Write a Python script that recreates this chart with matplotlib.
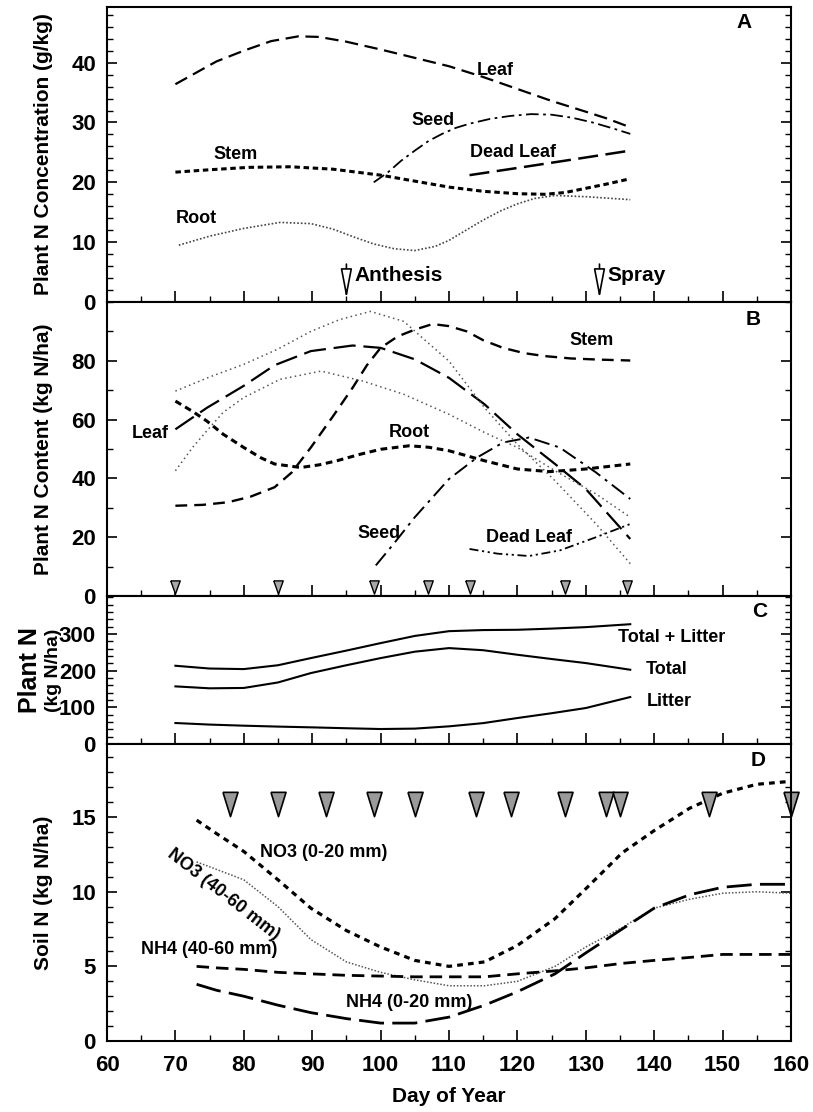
import numpy as np
import matplotlib
matplotlib.use('Agg')
import matplotlib.pyplot as plt
from matplotlib.path import Path
from matplotlib.ticker import MultipleLocator
from matplotlib.patches import FancyArrowPatch

plt.rcParams['font.family'] = ['Liberation Sans Narrow', 'Liberation Sans', 'DejaVu Sans']
plt.rcParams['font.weight'] = 'bold'
plt.rcParams['axes.labelweight'] = 'bold'

# ---- Panel A: plant N concentration (g/kg)
a_leaf_x = [70, 73, 76, 80, 84, 88, 91, 95, 100, 105, 110, 115, 120, 125, 130, 133, 136.5]
a_leaf_y = [36.4, 38.3, 40.2, 42.0, 43.6, 44.4, 44.3, 43.5, 42.2, 40.8, 39.4, 37.6, 35.6, 33.6, 31.8, 30.7, 29.2]
a_seed_x = [99, 101, 103, 105, 107, 109, 111, 113, 116, 119, 122, 125, 128, 131, 134, 136.5]
a_seed_y = [20.0, 21.6, 23.6, 25.3, 26.9, 28.1, 29.1, 29.8, 30.6, 31.1, 31.4, 31.3, 30.8, 30.0, 29.0, 28.1]
a_stem_x = [70, 75, 80.7, 86.8, 93, 100, 105, 110, 115, 120, 124, 127, 130, 133, 136.5]
a_stem_y = [21.7, 22.1, 22.5, 22.6, 22.2, 21.2, 20.2, 19.2, 18.5, 18.1, 18.0, 18.3, 19.0, 19.7, 20.6]
a_dead_x = [113, 120, 128, 136.5]
a_dead_y = [21.2, 22.4, 23.8, 25.3]
a_root_x = [70.5, 75, 80, 85.3, 89.8, 93, 96, 99, 102, 105, 108, 110, 112.5, 115, 117.5, 120, 122.5, 125.5, 130, 136.5]
a_root_y = [9.5, 11.0, 12.3, 13.3, 13.1, 12.2, 10.9, 9.7, 8.9, 8.6, 9.3, 10.3, 12.0, 13.7, 15.2, 16.4, 17.3, 17.8, 17.6, 17.1]
a_events = [95, 132]
a_event_names = ['Anthesis', 'Spray']

# ---- Panel B: plant N content (kg N/ha)
b_leaf_x = [70, 74.6, 80, 84.5, 89.8, 95.9, 100, 105, 110, 115.2, 120, 125.5, 130, 136.5]
b_leaf_y = [56.7, 64.0, 71.5, 78.5, 83.3, 85.2, 84.4, 80.5, 74.2, 65.2, 55.0, 44.9, 36.4, 19.4]
b_stem_x = [70, 74, 77.7, 81, 84.5, 87, 89.8, 93, 95.9, 98, 100, 102.5, 105, 107.6, 110, 112.6, 115, 117.9, 121, 124, 127.8, 132, 136.5]
b_stem_y = [30.7, 31.0, 31.9, 33.8, 37.0, 42.0, 50.5, 61.0, 70.8, 78.5, 84.4, 88.3, 90.6, 92.5, 91.8, 90.0, 87.0, 84.4, 82.6, 81.6, 80.8, 80.4, 80.1]
b_root_x = [70, 72.5, 74.6, 77, 80, 82.5, 84.5, 88.3, 91, 93.6, 97, 100, 104.2, 107, 110, 115.2, 120, 124.7, 130, 136.5]
b_root_y = [66.3, 62.8, 59.5, 55.0, 50.5, 47.0, 44.9, 43.7, 44.6, 46.0, 48.2, 49.9, 51.1, 50.6, 49.4, 46.0, 43.2, 42.3, 43.2, 44.9]
b_seed_x = [99.3, 102, 105, 110, 114.1, 117.9, 121.7, 126.2, 131.5, 136.5]
b_seed_y = [10.4, 18.0, 26.8, 39.8, 47.1, 52.2, 53.9, 50.5, 42.0, 33.0]
b_dead_x = [113, 117.1, 121.7, 126.2, 131.5, 136.5]
b_dead_y = [16.0, 14.4, 13.6, 15.5, 20.0, 24.5]
b_dot1_x = [70, 75, 80, 85, 89.8, 94, 98.5, 103.4, 106.5, 110, 115.2, 120, 125.5, 131.5, 136.5]
b_dot1_y = [69.7, 74.5, 78.8, 84.0, 90.0, 94.0, 96.8, 93.4, 87.0, 79.9, 64.0, 51.6, 39.2, 24.5, 11.0]
b_dot2_x = [70, 72.5, 74.6, 77, 80, 85.3, 91.3, 97.4, 103.4, 110, 115.2, 120, 125.5, 131.5, 136.5]
b_dot2_y = [42.6, 50.5, 56.2, 62.5, 67.5, 73.7, 76.5, 73.1, 68.6, 61.8, 55.6, 50.5, 42.6, 34.7, 26.8]
b_sample_days = [70, 85, 99, 107, 113, 127, 136]

# ---- Panel C: plant N (kg N/ha)
c_x = [70, 75, 80, 85, 89.8, 95, 100, 105, 110, 115, 120, 125, 130, 136.5]
c_total_litter = [213.6, 206, 204.5, 215, 234.5, 255, 275.4, 295, 308, 311, 311.8, 315, 319, 327]
c_total = [157.3, 152, 153, 168, 193.6, 215, 234.5, 252, 261.8, 256, 243.6, 232, 220.9, 202.7]
c_litter = [57.3, 53, 50, 47.5, 45.5, 43, 40.9, 42, 48.2, 57, 70.9, 84, 98.2, 128.2]

# ---- Panel D: soil N (kg N/ha)
d_x = [73.1, 76, 80, 85, 89.8, 95, 100, 105, 110, 115.2, 120, 125.5, 130, 135.3, 140, 145.2, 150, 155, 160]
d_no3_top = [14.8, 13.9, 12.7, 10.8, 8.9, 7.4, 6.3, 5.4, 5.0, 5.3, 6.4, 8.2, 10.2, 12.6, 14.1, 15.6, 16.6, 17.2, 17.4]
d_no3_deep = [12.0, 11.5, 10.8, 9.0, 6.8, 5.3, 4.6, 4.1, 3.7, 3.7, 4.0, 5.0, 6.3, 7.6, 8.9, 9.5, 9.9, 10.0, 9.9]
d_nh4_deep = [5.0, 4.9, 4.8, 4.6, 4.5, 4.4, 4.35, 4.3, 4.3, 4.3, 4.5, 4.7, 4.9, 5.2, 5.4, 5.6, 5.8, 5.8, 5.8]
d_nh4_top = [3.8, 3.4, 3.0, 2.4, 1.9, 1.5, 1.2, 1.2, 1.6, 2.4, 3.3, 4.5, 5.9, 7.5, 8.9, 9.8, 10.3, 10.5, 10.5]
d_sample_days = [78, 85, 92, 99, 105, 114, 119, 127, 133, 135, 148, 160]

fig = plt.figure(figsize=(8.13, 11.12), dpi=100)
gs = fig.add_gridspec(4, 1, height_ratios=[295, 294, 148, 297], hspace=0,
                      left=107/813, right=791/813, top=1-7/1112, bottom=1-1041/1112)
axA = fig.add_subplot(gs[0])
axB = fig.add_subplot(gs[1], sharex=axA)
axC = fig.add_subplot(gs[2], sharex=axA)
axD = fig.add_subplot(gs[3], sharex=axA)

k = 'black'
# Panel A
axA.plot(a_leaf_x, a_leaf_y, color=k, lw=1.6, ls=(0, (6, 3)))
axA.plot(a_seed_x, a_seed_y, color=k, lw=1.3, ls=(0, (7, 2.5, 1.5, 2.5)))
axA.plot(a_stem_x, a_stem_y, color=k, lw=2.2, ls=(0, (1.8, 1.2)))
axA.plot(a_dead_x, a_dead_y, color=k, lw=1.8, ls=(0, (8, 3)))
axA.plot(a_root_x, a_root_y, color='#444444', lw=1.2, ls=(0, (1, 1.2)))
for d, name in zip(a_events, a_event_names):
    axA.add_patch(FancyArrowPatch((d, 6.8), (d, 0.1), arrowstyle='-|>,head_width=0.25,head_length=1.3',
                                  mutation_scale=14, fc='white', ec=k, lw=1.2))
    axA.text(d + 1.2, 4.4, name, fontsize=15, va='center', ha='left')
axA.text(116.8, 38.7, 'Leaf', fontsize=13, ha='center', va='center')
axA.text(107.6, 30.3, 'Seed', fontsize=13, ha='center', va='center')
axA.text(78.8, 24.7, 'Stem', fontsize=13, ha='center', va='center')
axA.text(119.4, 25.0, 'Dead Leaf', fontsize=13, ha='center', va='center')
axA.text(73.0, 14.0, 'Root', fontsize=13, ha='center', va='center')
axA.text(153.2, 46.7, 'A', fontsize=15, ha='center', va='center')
axA.set_ylim(0, 49.3)
axA.set_yticks([0, 10, 20, 30, 40])
axA.yaxis.set_minor_locator(MultipleLocator(2))
axA.set_ylabel('Plant N Concentration (g/kg)', fontsize=15)

# Panel B
axB.plot(b_leaf_x, b_leaf_y, color=k, lw=1.6, ls=(0, (10, 3.5)))
axB.plot(b_stem_x, b_stem_y, color=k, lw=1.7, ls=(0, (5, 3)))
axB.plot(b_root_x, b_root_y, color=k, lw=2.2, ls=(0, (2.2, 1.5)))
axB.plot(b_seed_x, b_seed_y, color=k, lw=1.4, ls=(0, (8, 3, 1.5, 3)))
axB.plot(b_dead_x, b_dead_y, color=k, lw=1.3, ls=(0, (5, 2, 1.2, 2, 1.2, 2)))
axB.plot(b_dot1_x, b_dot1_y, color='#555555', lw=1.1, ls=(0, (1, 2.2)))
axB.plot(b_dot2_x, b_dot2_y, color='#555555', lw=1.1, ls=(0, (1, 2.2)))
tri_small = Path([(-0.36, 0.5), (0.36, 0.5), (0, -0.5), (-0.36, 0.5)])
axB.plot(b_sample_days, [2.9] * len(b_sample_days), ls='none', marker=tri_small,
         ms=9.5, mfc='#a8a8a8', mec=k, mew=1.0)
axB.text(130.8, 86.9, 'Stem', fontsize=13, ha='center', va='center')
axB.text(66.3, 55.3, 'Leaf', fontsize=13, ha='center', va='center')
axB.text(104.2, 55.6, 'Root', fontsize=13, ha='center', va='center')
axB.text(99.7, 21.4, 'Seed', fontsize=13, ha='center', va='center')
axB.text(121.7, 20.0, 'Dead Leaf', fontsize=13, ha='center', va='center')
axB.text(154.5, 94.0, 'B', fontsize=15, ha='center', va='center')
axB.set_ylim(0, 100)
axB.set_yticks([0, 20, 40, 60, 80])
axB.yaxis.set_minor_locator(MultipleLocator(10))
axB.set_ylabel('Plant N Content (kg N/ha)', fontsize=15)

# Panel C
axC.plot(c_x, c_total_litter, color=k, lw=1.5)
axC.plot(c_x, c_total, color=k, lw=1.5)
axC.plot(c_x, c_litter, color=k, lw=1.5)
axC.text(142.5, 291, 'Total + Litter', fontsize=13, ha='center', va='center')
axC.text(141.8, 203, 'Total', fontsize=13, ha='center', va='center')
axC.text(142.2, 116, 'Litter', fontsize=13, ha='center', va='center')
axC.text(155.4, 362, 'C', fontsize=15, ha='center', va='center')
axC.set_ylim(0, 404)
axC.set_yticks([0, 100, 200, 300])
axC.yaxis.set_minor_locator(MultipleLocator(20))
axC.set_ylabel('')
fig.text(30/813, 1 - 670/1112, 'Plant N', fontsize=18, rotation=90, ha='center', va='center')
fig.text(53/813, 1 - 670/1112, '(kg N/ha)', fontsize=14, rotation=90, ha='center', va='center')

# Panel D
axD.plot(d_x, d_no3_top, color=k, lw=2.3, ls=(0, (1.8, 1.6)))
axD.plot(d_x, d_no3_deep, color='#555555', lw=1.1, ls=(0, (1, 1.2)))
axD.plot(d_x, d_nh4_deep, color=k, lw=2.0, ls=(0, (4.5, 2.5)))
axD.plot(d_x, d_nh4_top, color=k, lw=2.0, ls=(0, (9, 3)))
tri_big = Path([(-0.31, 0.5), (0.31, 0.5), (0, -0.5), (-0.31, 0.5)])
axD.plot(d_sample_days, [15.85] * len(d_sample_days), ls='none', marker=tri_big,
         ms=17.5, mfc='#9a9a9a', mec=k, mew=1.2, clip_on=False)
axD.text(91.7, 12.6, 'NO3 (0-20 mm)', fontsize=13, ha='center', va='center')
axD.text(77.0, 9.8, 'NO3 (40-60 mm)', fontsize=13, ha='center', va='center', rotation=-38)
axD.text(75.0, 6.1, 'NH4 (40-60 mm)', fontsize=13, ha='center', va='center')
axD.text(104.2, 2.6, 'NH4 (0-20 mm)', fontsize=13, ha='center', va='center')
axD.text(155.2, 18.8, 'D', fontsize=15, ha='center', va='center')
axD.set_ylim(0, 19.9)
axD.set_yticks([0, 5, 10, 15])
axD.yaxis.set_minor_locator(MultipleLocator(1))
axD.set_ylabel('Soil N (kg N/ha)', fontsize=15)
axD.set_xlabel('Day of Year', fontsize=15, labelpad=8)

axD.set_xlim(60, 160)
axD.set_xticks(np.arange(60, 161, 10))
axD.xaxis.set_minor_locator(MultipleLocator(5))

for ax in [axA, axB, axC, axD]:
    for s in ax.spines.values():
        s.set_linewidth(1.5)
    ax.tick_params(axis='y', which='both', direction='in', left=True, right=True, labelsize=16, pad=8)
    ax.tick_params(axis='y', which='major', length=7, width=1.2)
    ax.tick_params(axis='y', which='minor', length=4, width=1.0)
    ax.tick_params(axis='x', which='both', direction='in', top=False, bottom=True)
    ax.tick_params(axis='x', which='major', length=8, width=1.2, labelsize=16, pad=10)
    ax.tick_params(axis='x', which='minor', length=4, width=1.0)
    ax.yaxis.set_label_coords(-0.079, 0.5)
for ax in [axA, axB, axC]:
    plt.setp(ax.get_xticklabels(), visible=False)

plt.savefig('out.png', dpi=100)
